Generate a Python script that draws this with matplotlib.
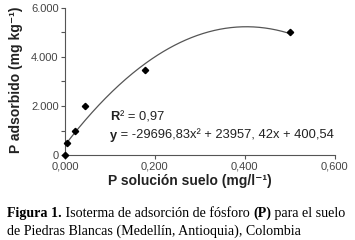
import matplotlib
matplotlib.use("Agg")
import matplotlib.pyplot as plt
import numpy as np
from matplotlib.ticker import FuncFormatter, MultipleLocator

# measured points (P solution vs P adsorbed)
p_sol = [0.0, 0.004, 0.022, 0.044, 0.178, 0.5]
p_ads = [0, 490, 980, 2000, 3470, 5000]

# quadratic fit shown on the chart
coef = [-29696.83, 23957.42, 400.54]
x_fit = np.linspace(0.0, 0.5, 200)

SANS = ["Liberation Sans", "DejaVu Sans"]
SERIF = ["Liberation Serif", "DejaVu Serif"]

fig = plt.figure(figsize=(3.55, 2.4), dpi=100)
ax = fig.add_axes([0.183, 0.354, 0.76, 0.613])

ax.plot(x_fit, np.polyval(coef, x_fit), color="#555555", lw=0.9, zorder=2)
ax.plot(p_sol, p_ads, "D", color="black", ms=3.2, zorder=3, clip_on=False)

ax.set_xlim(0, 0.6)
ax.set_ylim(0, 6000)
ax.xaxis.set_major_locator(MultipleLocator(0.2))
ax.yaxis.set_major_locator(MultipleLocator(2000))
ax.yaxis.set_minor_locator(MultipleLocator(1000))
ax.xaxis.set_major_formatter(FuncFormatter(lambda v, p: f"{v:.3f}".replace(".", ",")))
ax.yaxis.set_major_formatter(FuncFormatter(lambda v, p: f"{v:,.0f}".replace(",", ".")))
for s in ("top", "right"):
    ax.spines[s].set_visible(False)
for s in ("left", "bottom"):
    ax.spines[s].set_color("#555555")
    ax.spines[s].set_linewidth(0.8)
ax.tick_params(which="both", direction="out", color="#555555", width=0.8,
               labelsize=8, labelcolor="#444444", pad=1.5)
ax.tick_params(which="major", length=3)
ax.tick_params(which="minor", length=3)
for lab in ax.get_xticklabels() + ax.get_yticklabels():
    lab.set_family(SANS)
ax.get_xticklabels()[0].set_horizontalalignment("left")

fig.text(0.045, 0.667, "P adsorbido (mg kg\u207b\u00b9)", rotation=90, ha="center",
         va="center", fontsize=10, fontweight="bold", family=SANS, color="#222222")
fig.text(0.535, 0.246, "P solución suelo (mg/l\u207b\u00b9)", ha="center", va="center",
         fontsize=10, fontweight="bold", family=SANS, color="#222222")


def runs(x_px, y_px, parts, size, family, color="#222222", gap=0.0):
    # place text runs side by side on one baseline (pixel coords from top-left)
    x = x_px
    for txt, bold in parts:
        t = fig.text(x / 355, 1 - y_px / 240, txt, fontsize=size, family=family,
                     fontweight="bold" if bold else "normal", color=color,
                     va="baseline", ha="left")
        fig.canvas.draw()
        x = t.get_window_extent().x1 + gap


runs(110, 120, [("R", True), ("\u00b2 = 0,97", False)], 9.3, SANS, gap=1.0)
runs(110, 139, [("y", True), (" = -29696,83x\u00b2 + 23957, 42x + 400,54", False)], 9.3, SANS)
runs(7, 217, [("Figura 1.", True), (" Isoterma de adsorción de fósforo ", False),
              ("(P)", True), (" para el suelo", False)], 10.1, SERIF, "black")
runs(7, 235, [("de Piedras Blancas (Medellín, Antioquia), Colombia", False)], 10.1, SERIF, "black")

fig.savefig("out.png", dpi=100)
